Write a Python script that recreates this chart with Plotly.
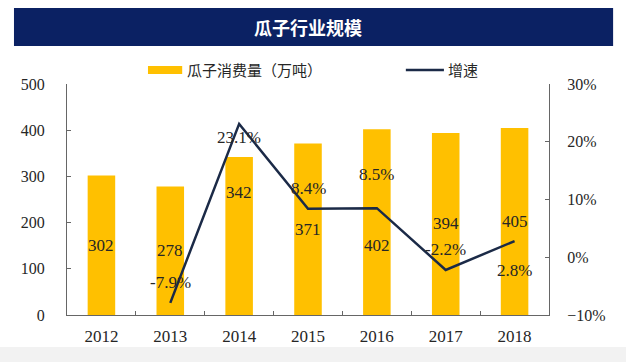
import plotly.graph_objects as go

years = ["2012", "2013", "2014", "2015", "2016", "2017", "2018"]
consumption = [302, 278, 342, 371, 402, 394, 405]
growth_years = ["2013", "2014", "2015", "2016", "2017", "2018"]
growth = [-7.9, 23.1, 8.4, 8.5, -2.2, 2.8]
bar_label_shift = [0, 0, 44, 0, -23, 0, 0]
growth_label_shift = [20, -14, 20, 34, 20, -29]
bar_name = "瓜子消费量（万吨）"
line_name = "增速"

BAR = "#FFC000"
LINE = "#1B2A47"
NAVY = "#0B2163"
SERIF = "Liberation Serif"
CJK = "Noto Sans CJK SC"
TXT = "#262626"

fig = go.Figure()
fig.add_trace(go.Bar(x=years, y=consumption, name=bar_name,
                     marker=dict(color=BAR, line=dict(width=0)), width=0.4, yaxis="y"))
fig.add_trace(go.Scatter(x=growth_years, y=growth, name=line_name, mode="lines",
                         line=dict(color=LINE, width=2.5), yaxis="y2"))

ann = []
for x, v, s in zip(years, consumption, bar_label_shift):
    ann.append(dict(x=years.index(x), y=v / 2, xref="x", yref="y", text=str(v), showarrow=False,
                    yshift=s, font=dict(family=SERIF, size=17, color=TXT)))
for x, v, s in zip(growth_years, growth, growth_label_shift):
    ann.append(dict(x=years.index(x), y=v, xref="x", yref="y2", text=f"{v}%", showarrow=False,
                    yshift=s, font=dict(family=SERIF, size=17, color=TXT)))
ann.append(dict(x=0.5, y=1.247, xref="paper", yref="paper", text="<b>瓜子行业规模</b>",
                showarrow=False, xanchor="center", yanchor="middle",
                font=dict(family=CJK, size=18, color="white")))
# custom legend texts
ann.append(dict(x=0.245, y=1.061, xref="paper", yref="paper", text=bar_name, showarrow=False,
                xanchor="left", yanchor="middle", font=dict(family=CJK, size=15, color=TXT)))
ann.append(dict(x=0.786, y=1.061, xref="paper", yref="paper", text=line_name, showarrow=False,
                xanchor="left", yanchor="middle", font=dict(family=CJK, size=15, color=TXT)))

shapes = [
    dict(type="rect", xref="paper", yref="paper", x0=-0.110, x1=1.133, y0=1.165, y1=1.329,
         fillcolor=NAVY, line=dict(width=0), layer="below"),
    dict(type="rect", xref="paper", yref="paper", x0=-0.15, x1=1.17, y0=-0.21, y1=-0.1385,
         fillcolor="#F2F2F2", line=dict(width=0), layer="below"),
    dict(type="rect", xref="paper", yref="paper", x0=0.168, x1=0.239, y0=1.043, y1=1.078,
         fillcolor=BAR, line=dict(width=0)),
    dict(type="line", xref="paper", yref="paper", x0=0.703, x1=0.782, y0=1.061, y1=1.061,
         line=dict(color=LINE, width=2.5)),
]

fig.update_layout(
    width=626, height=362,
    margin=dict(l=67, r=77, t=84, b=47, autoexpand=False),
    paper_bgcolor="white", plot_bgcolor="white",
    showlegend=False,
    xaxis=dict(type="category", showline=True, linecolor="#666", linewidth=1,
               ticks="inside", ticklen=4, tickcolor="#666", tickson="boundaries",
               ticklabelstandoff=6,
               tickfont=dict(family=SERIF, size=17, color=TXT), showgrid=False),
    yaxis=dict(range=[0, 500], dtick=100, showline=True, linecolor="#666", linewidth=1,
               ticks="inside", ticklen=4, tickcolor="#666", showgrid=False, zeroline=False,
               ticklabelstandoff=18,
               tickfont=dict(family=SERIF, size=16, color=TXT)),
    yaxis2=dict(range=[-10, 30], dtick=10, overlaying="y", side="right", showline=True,
                linecolor="#666", linewidth=1, ticks="inside", ticklen=4, tickcolor="#666",
                showgrid=False, zeroline=False, ticksuffix="%", ticklabelstandoff=14,
                tickfont=dict(family=SERIF, size=16, color=TXT)),
    annotations=ann, shapes=shapes, bargap=0.6,
)

fig.write_html("out.html", config={"displayModeBar": False},
               post_script="document.body.style.margin='0';document.body.style.overflow='hidden';")
